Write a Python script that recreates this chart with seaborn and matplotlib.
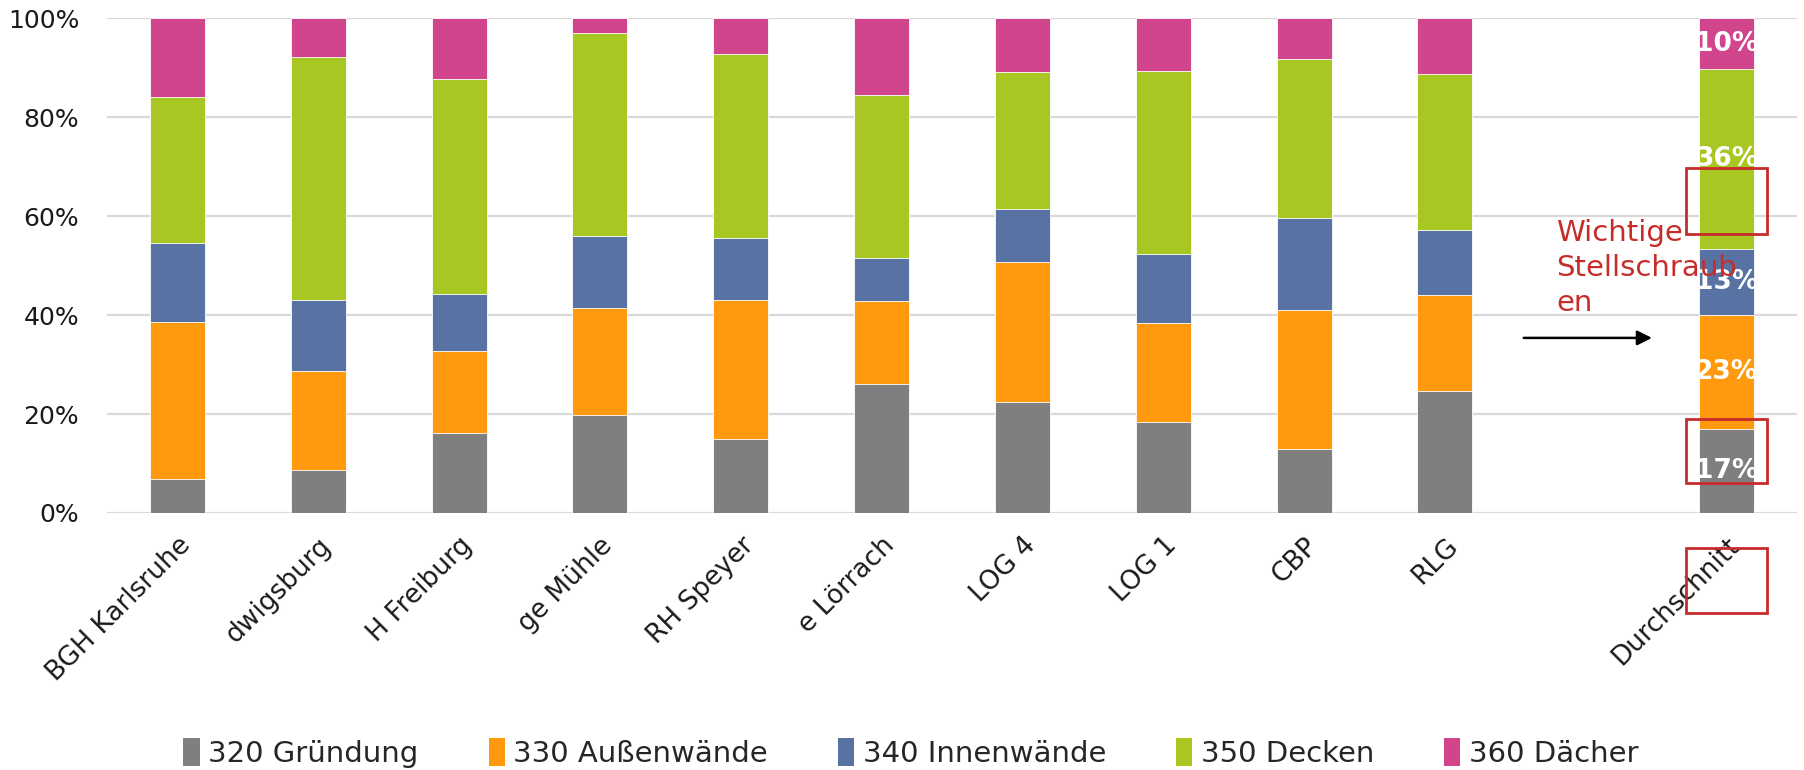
import numpy as np
import pandas as pd
import matplotlib
matplotlib.use("Agg")
import matplotlib.pyplot as plt
from matplotlib.patches import Rectangle, Patch
import seaborn as sns

# ---------------- data ----------------
categories = ["BGH Karlsruhe", "dwigsburg", "H Freiburg", "ge Mühle", "RH Speyer",
              "e Lörrach", "LOG 4", "LOG 1", "CBP", "RLG", " ", "Durchschnitt"]
series = ["320 Gründung", "330 Außenwände", "340 Innenwände", "350 Decken", "360 Dächer"]
colors = ["#7f7f7f", "#ff990e", "#5872a4", "#a9c722", "#d0458b"]

gruendung    = [6.8, 8.7, 16.2, 19.8, 14.9, 26.1, 22.4, 18.3, 13.0, 24.6, None, 16.9]
aussenwaende = [31.9, 20.1, 16.5, 21.7, 28.2, 16.8, 28.4, 20.2, 28.1, 19.5, None, 23.1]
innenwaende  = [15.8, 14.2, 11.5, 14.5, 12.4, 8.6, 10.7, 13.9, 18.5, 13.1, None, 13.4]
decken       = [29.7, 49.1, 43.5, 41.0, 37.4, 33.0, 27.7, 36.9, 32.1, 31.5, None, 36.4]
daecher      = [15.8, 7.9, 12.3, 3.0, 7.1, 15.5, 10.8, 10.7, 8.3, 11.3, None, 10.2]

avg_labels = ["17%", "23%", "13%", "36%", "10%"]
y_ticks = [0, 20, 40, 60, 80, 100]
annot_text = "Wichtige\nStellschraub\nen"

# ---------------- build long table ----------------
vals = [gruendung, aussenwaende, innenwaende, decken, daecher]
rows = []
for ci, cat in enumerate(categories):
    if vals[0][ci] is None:
        continue
    cum = 0.0
    for si, s in enumerate(series):
        cum += vals[si][ci]
        rows.append({"cat": cat, "series": s, "value": vals[si][ci], "cum": cum,
                     "bottom": cum - vals[si][ci]})
df = pd.DataFrame(rows)

sns.set_theme(style="white")
plt.rcParams["font.family"] = ["DejaVu Sans"]

fig = plt.figure(figsize=(18.04, 7.70), dpi=100)
ax = fig.add_axes([107 / 1804, 1 - 513 / 770, (1797 - 107) / 1804, (513 - 18.4) / 770])

# draw stacked bars: cumulative heights from top series down
for si in reversed(range(len(series))):
    sub = df[df["series"] == series[si]]
    sns.barplot(data=sub, x="cat", y="cum", order=categories, color=colors[si],
                width=0.39, errorbar=None, saturation=1, edgecolor="white",
                linewidth=0.6, ax=ax, zorder=2)

ax.set_xlim(-0.5, len(categories) - 0.5)
ax.set_ylim(0, 100)
ax.set_xlabel("")
ax.set_ylabel("")
ax.set_yticks(y_ticks)
ax.set_yticklabels([f"{v}%" for v in y_ticks], fontsize=18, color="#1a1a1a")
ax.set_xticks(range(len(categories)))
ax.set_xticklabels(categories, fontsize=19, rotation=45, ha="right",
                   rotation_mode="anchor", color="#1a1a1a")
ax.tick_params(axis="both", length=0)
ax.tick_params(axis="x", pad=14)
ax.tick_params(axis="y", pad=20)
for sp in ax.spines.values():
    sp.set_visible(False)
ax.yaxis.grid(True, color="#d9d9d9", linewidth=1.6, zorder=0)
ax.set_axisbelow(True)

# labels on the average bar
avg_i = categories.index("Durchschnitt")
avg = df[df["cat"] == "Durchschnitt"]
for (_, r), lab in zip(avg.iterrows(), avg_labels):
    ax.text(avg_i, (r["bottom"] + r["cum"]) / 2, lab, color="white", fontsize=19,
            fontweight="bold", ha="center", va="center", zorder=5)

# annotation
red = "#c62d2a"
ax.text(9.79, 49.5, annot_text, color=red, fontsize=21, ha="left", va="center",
        linespacing=1.32, zorder=6)
ax.annotate("", xy=(10.49, 35.4), xytext=(9.54, 35.4),
            arrowprops=dict(arrowstyle="-|>", color="black", lw=1.8,
                            mutation_scale=22), zorder=6)
for (y0, y1) in [(56.4, 69.8), (6.1, 19.0), (-20.2, -7.1)]:
    ax.add_patch(Rectangle((avg_i - 0.29, y0), 0.58, y1 - y0, fill=False,
                           edgecolor=red, linewidth=2, clip_on=False, zorder=7))

# legend
handles = [Patch(facecolor=c, edgecolor="none") for c in colors]
fig.legend(handles, series, loc="center", bbox_to_anchor=(0.505, 0.022), ncol=5,
           frameon=False, fontsize=21, handlelength=0.55, handleheight=1.1,
           handletextpad=0.3, columnspacing=2.4)

fig.savefig("out.png", dpi=100)
